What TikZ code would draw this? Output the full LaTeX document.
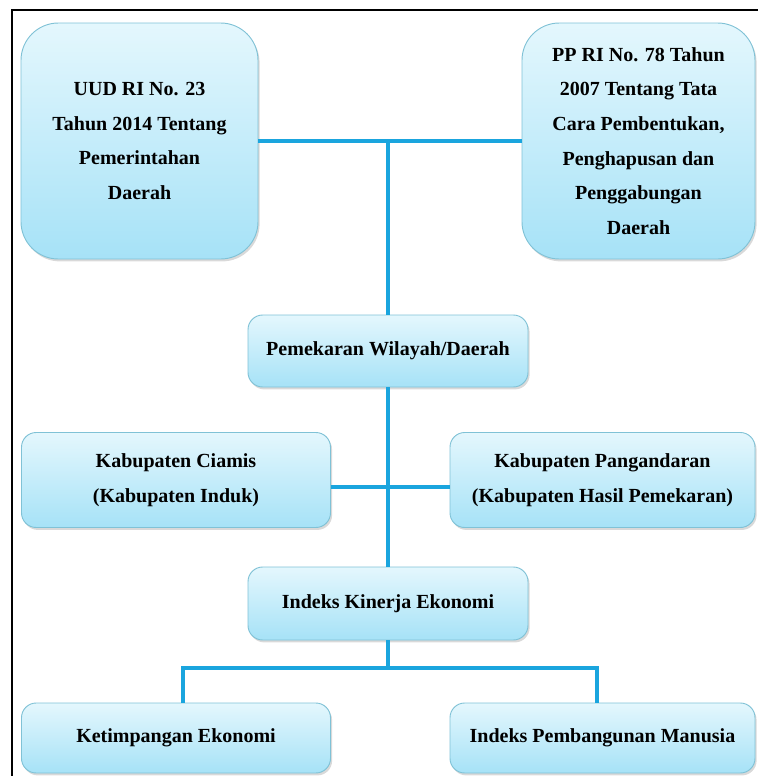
\documentclass[tikz,border=0pt]{standalone}
\usepackage{fontspec}
\setmainfont{Liberation Serif}
\usetikzlibrary{shadows}
\definecolor{boxtop}{HTML}{E4F7FD}
\definecolor{boxbot}{HTML}{A6E2F7}
\definecolor{boxline}{HTML}{80C2D6}
\definecolor{conncol}{HTML}{1AA5DE}
\tikzset{
  box/.style={draw=boxline, line width=0.7pt, top color=boxtop, bottom color=boxbot,
    rounded corners=11pt, align=center, inner sep=0pt,
    font=\bfseries\fontsize{15}{26}\selectfont,
    drop shadow={opacity=0.3, shadow xshift=1.2pt, shadow yshift=-1.8pt}},
  bigbox/.style={box, rounded corners=28pt},
  conn/.style={draw=conncol, line width=3.3pt},
}
\begin{document}
\begin{tikzpicture}[x=0.75pt,y=0.75pt]
\useasboundingbox (0,0) rectangle (758,-776);
\draw[line width=1.4pt] (12,-776) -- (12,-10) -- (758,-10);

\node[bigbox, minimum width=237*0.75pt, minimum height=236*0.75pt] (uud) at (139.5,-141)
  {UUD RI No. 23\\Tahun 2014 Tentang\\Pemerintahan\\Daerah};
\node[bigbox, minimum width=233*0.75pt, minimum height=236*0.75pt] (pp) at (638.5,-141)
  {PP RI No. 78 Tahun\\2007 Tentang Tata\\Cara Pembentukan,\\Penghapusan dan\\Penggabungan\\Daerah};
\node[box, minimum width=280*0.75pt, minimum height=72*0.75pt] (pem) at (388,-351)
  {Pemekaran Wilayah/Daerah};
\node[box, minimum width=309*0.75pt, minimum height=95*0.75pt] (cia) at (176,-480)
  {Kabupaten Ciamis\\(Kabupaten Induk)};
\node[box, minimum width=305*0.75pt, minimum height=95*0.75pt] (pan) at (602.5,-480)
  {Kabupaten Pangandaran\\(Kabupaten Hasil Pemekaran)};
\node[box, minimum width=280*0.75pt, minimum height=73*0.75pt] (ike) at (388,-603.5)
  {Indeks Kinerja Ekonomi};
\node[box, minimum width=309*0.75pt, minimum height=70*0.75pt] (ket) at (176,-738)
  {Ketimpangan Ekonomi};
\node[box, minimum width=305*0.75pt, minimum height=70*0.75pt] (ipm) at (602.5,-738)
  {Indeks Pembangunan Manusia};

\coordinate (j1) at (pem.north |- uud.east);
\coordinate (j2) at (ike.south |- 0,-668);
\coordinate (jl) at (183,-668);
\coordinate (jr) at (597,-668);

\draw[conn] (uud.east) -- (pp.west);
\draw[conn] (j1) -- (pem.north);
\draw[conn] (pem.south) -- (ike.north);
\draw[conn] ([yshift=-5.3pt]cia.east) -- ([yshift=-5.3pt]pan.west);
\draw[conn] (ike.south) -- (j2);
\draw[conn, line cap=rect] (jl) -- (jr);
\draw[conn] (jl) -- (ket.north -| jl);
\draw[conn] (jr) -- (ipm.north -| jr);
\end{tikzpicture}
\end{document}
